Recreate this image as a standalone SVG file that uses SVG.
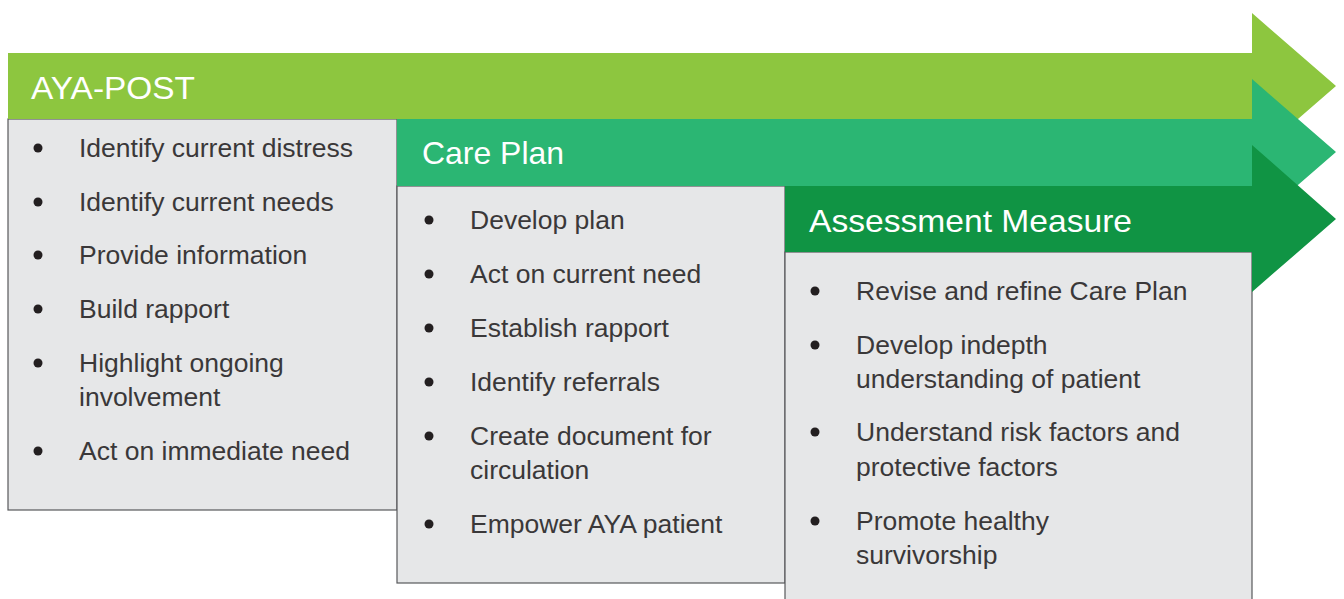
<svg xmlns="http://www.w3.org/2000/svg" width="1344" height="599" viewBox="0 0 1344 599">
<style>
.box{fill:#e6e7e8;stroke:#58595b;stroke-width:1.2}
.hd{font-family:"Liberation Sans",Arial,sans-serif;font-size:32px;fill:#ffffff}
.tx{font-family:"Liberation Sans",Arial,sans-serif;font-size:26.5px;fill:#3a3839}
.bl{fill:#231f20}
.a1{fill:#8dc63f}
.a2{fill:#2bb673}
.a3{fill:#109444}
</style>
<rect width="1344" height="599" fill="#ffffff"/>
<g id="aya-post-box">
<rect class="box" x="8" y="119" width="389" height="391"/>
<circle class="bl" cx="38" cy="148" r="4.5"/><text class="tx" x="79" y="157">Identify current distress</text>
<circle class="bl" cx="38" cy="202" r="4.5"/><text class="tx" x="79" y="211">Identify current needs</text>
<circle class="bl" cx="38" cy="255" r="4.5"/><text class="tx" x="79" y="264">Provide information</text>
<circle class="bl" cx="38" cy="309" r="4.5"/><text class="tx" x="79" y="318">Build rapport</text>
<circle class="bl" cx="38" cy="363" r="4.5"/><text class="tx" x="79" y="372">Highlight ongoing</text><text class="tx" x="79" y="406">involvement</text>
<circle class="bl" cx="38" cy="451" r="4.5"/><text class="tx" x="79" y="460">Act on immediate need</text>
</g>
<g id="care-plan-box">
<rect class="box" x="397" y="186" width="388" height="397"/>
<circle class="bl" cx="429" cy="220" r="4.5"/><text class="tx" x="470" y="229">Develop plan</text>
<circle class="bl" cx="429" cy="274" r="4.5"/><text class="tx" x="470" y="283">Act on current need</text>
<circle class="bl" cx="429" cy="328" r="4.5"/><text class="tx" x="470" y="337">Establish rapport</text>
<circle class="bl" cx="429" cy="382" r="4.5"/><text class="tx" x="470" y="391">Identify referrals</text>
<circle class="bl" cx="429" cy="436" r="4.5"/><text class="tx" x="470" y="445">Create document for</text><text class="tx" x="470" y="479">circulation</text>
<circle class="bl" cx="429" cy="524" r="4.5"/><text class="tx" x="470" y="533">Empower AYA patient</text>
</g>
<g id="assessment-box">
<rect class="box" x="785" y="252" width="467" height="360"/>
<circle class="bl" cx="815" cy="291" r="4.5"/><text class="tx" x="856" y="300">Revise and refine Care Plan</text>
<circle class="bl" cx="815" cy="345" r="4.5"/><text class="tx" x="856" y="354">Develop indepth</text><text class="tx" x="856" y="388">understanding of patient</text>
<circle class="bl" cx="815" cy="432" r="4.5"/><text class="tx" x="856" y="441">Understand risk factors and</text><text class="tx" x="856" y="476">protective factors</text>
<circle class="bl" cx="815" cy="521" r="4.5"/><text class="tx" x="856" y="530">Promote healthy</text><text class="tx" x="856" y="564">survivorship</text>
</g>
<g id="aya-post-arrow">
<polygon class="a1" points="8,53 1252,53 1252,13 1336,86 1252,159 1252,119 8,119"/>
<text class="hd" x="31" y="99" textLength="164" lengthAdjust="spacingAndGlyphs">AYA-POST</text>
</g>
<g id="care-plan-arrow">
<polygon class="a2" points="397,119 1252,119 1252,79 1336,152 1252,225 1252,186 397,186"/>
<text class="hd" x="422" y="164" textLength="142" lengthAdjust="spacingAndGlyphs">Care Plan</text>
</g>
<g id="assessment-arrow">
<polygon class="a3" points="785,186 1252,186 1252,145 1336,219 1252,292 1252,252 785,252"/>
<text class="hd" x="809" y="232" textLength="323" lengthAdjust="spacingAndGlyphs">Assessment Measure</text>
</g>
<g id="connectors"></g>
</svg>
